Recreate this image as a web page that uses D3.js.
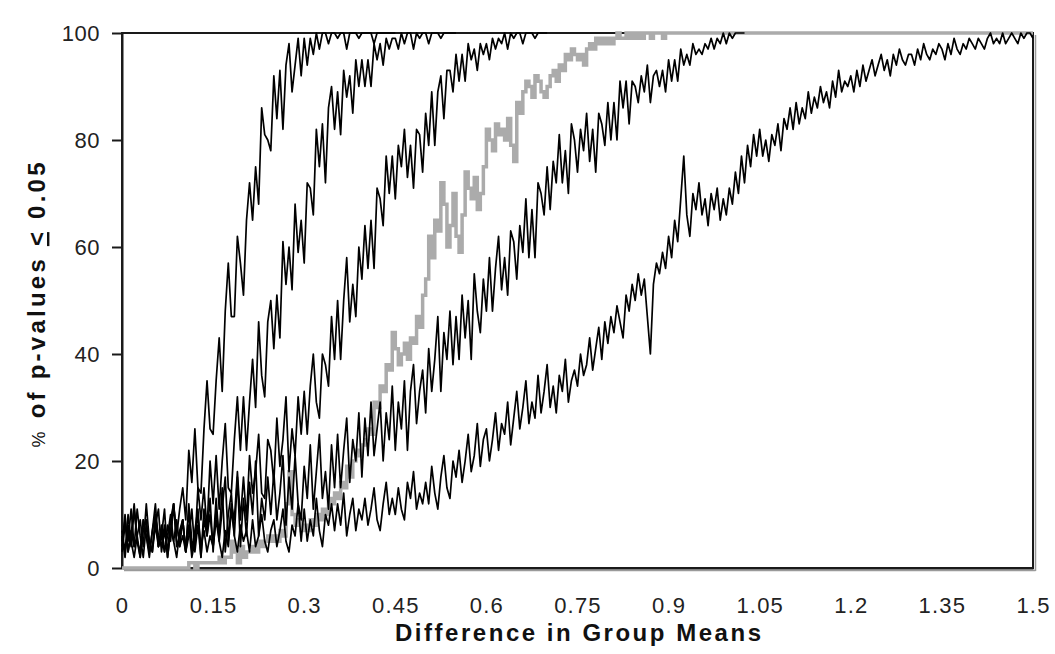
<!DOCTYPE html>
<html><head><meta charset="utf-8">
<script src="https://cdn.jsdelivr.net/npm/d3@7"></script>
<style>
body{margin:0;background:#fff}
text{font-family:"Liberation Sans",Arial,sans-serif}
</style>
</head><body>
<svg id="chart" width="1055" height="654"></svg>
<script>
// ---- data ----
const STEP = 0.005; // spacing of the mean differences (x) between successive values
const xTickValues = [0,0.15,0.3,0.45,0.6,0.75,0.9,1.05,1.2,1.35,1.5];
const xTickLabels = ["0","0.15","0.3","0.45","0.6","0.75","0.9","1.05","1.2","1.35","1.5"];
const yTickValues = [0,20,40,60,80,100];
const xTitle = "Difference in Group Means";

const seriesA = [4,10,3,6,12,5,2,7,9,3,4,8,11,3, 7,3,9,12,6,11,
 15,9,22,16,26,15,14,26,35,26, 25,35,43,33,48,57,47,47,62,57,
 51,65,72,65,75,68,86,81,80,78, 92,84,93,82,94,98,89,94,99,92,
 99,94,99,96,100,97,100,100,98,100,
 100,99,100,100,97,100,100,100,99,100,100,100,100,98,100,100,100,100,100,100,100];

const seriesB = [6,2,8,4,11,5,3,9,6,2,7,10,4,6,3,8,5,12,4,6,
 9,3,12,5,4,15,9,15,7,20, 12,21,11,20,27,15,14,24,32,22,
 32,22,31,39,30,46,36,32,46,50, 41,51,43,61,53,60,52,68,59,65,
 57,72,71,66,82,75,83,72,86,90, 82,89,81,93,88,92,85,95,90,95,
 90,95,90,98,95,98,94,99,97,99, 99,97,100,98,100,100,97,100,99,100,
 100,98,100,100,100,99,100,100,100,100,100];

const seriesC = [5,9,3,7,4,11,6,2,8,5,3,10,6,4,8,2,7,12,5,4,
 9,3,6,11,3,8,2,11,6,10, 4,13,5,11,17,5,12,9,18,9, 17,9,21,14,18,25,14,13,24,22,
 16,28,19,24,32,18,26,21,32,25, 33,25,34,40,31,28,40,38,34,47, 39,50,39,50,58,46,53,47,60,54,
 64,56,65,56,71,69,64,77,70,77, 69,79,75,82,73,79,71,82,81,74, 85,79,89,79,89,92,84,93,93,89,
 96,91,96,91,98,95,97,93,98,96, 98,95,99,97,99,98,100,97,100,99,
 100,100,98,100,100,100,99,100,100,100,100];

const seriesD = [3,8,5,11,4,6,2,9,6,3,7,12,4,8,3,6,10,5,2,7,
 9,3,11,3,7,11,2,9,6,13, 3,11,6,15,3,10,14,6,17,4, 13,6,16,10,20,6,13,9,17,10,
 18,9,14,21,8,17,11,21,12,9, 19,13,23,11,18,25,13,18,11,23, 15,25,15,22,28,16,24,20,29,17,
 28,21,31,21,26,31,20,29,24,34, 22,31,26,35,22,33,38,27,33,37, 29,41,33,39,47,33,44,39,48,38,
 47,39,51,43,50,39,55,48,44,54, 48,58,48,56,62,52,58,51,63,61, 54,64,59,69,58,67,58,72,70,66,
 75,67,76,72,81,72,78,70,83,80, 74,82,78,85,76,82,74,85,83,79, 87,80,87,80,91,86,91,83,91,90,
 87,92,89,94,87,92,93,90,93,89, 95,91,95,91,97,94,96,94,98,96, 97,96,98,97,99,97,99,98,100,98,
 100,99,100,100,100,100];

const seriesE = [7,3,10,5,2,6,9,4,12,5,3,8,4,6,11,2,7,5,9,4,
 6,3,8,2,5,10,4,7,3,6, 4,9,5,2,7,4,11,6,3,8, 5,7,3,9,4,6,10,5,3,7,
 9,4,7,11,5,3,8,6,12,5, 11,5,9,6,13,7,4,10,8,12, 7,12,8,14,6,10,13,7,11,9,
 13,8,11,15,9,7,12,16,10,13, 10,15,11,9,16,13,18,11,14,12, 16,12,19,14,11,17,21,15,13,20,
 17,22,16,20,25,18,21,27,19,24, 26,20,24,29,22,27,25,31,23,28, 33,26,30,35,27,31,28,36,29,33,
 38,30,34,29,36,33,39,31,35,37, 34,40,36,38,43,37,41,45,39,46, 42,47,44,49,46,43,51,48,53,50,
 55,51,54,47,40,53,57,55,59,56, 62,58,65,61,69,77,66,62,70,67, 72,66,69,64,70,67,71,65,69,66,
 71,68,74,70,77,72,79,75,81,77, 82,77,80,76,81,79,83,78,84,82, 86,82,87,83,86,84,89,85,88,86,
 90,87,89,86,91,88,93,89,91,90, 92,89,93,90,94,91,93,95,92,94, 96,93,95,92,96,94,97,95,94,96,
 96,94,97,95,98,96,95,97,96,98, 97,95,98,96,99,97,96,98,97,99, 98,97,99,98,97,99,100,98,99,98,
 100,98,99,100,99,98,100,99,100,100,99];

const seriesGray = [0,0,0,0,0,0,0,0,0,0,0,0,0,0,0,0,0,0,0,0,
 0,0,1,1,0,1,1,1,1,1, 1,1,2,1,2,2,5,3,1,4, 2,3,3,4,3,5,4,5,6,5,
 6,5,7,6,12,18,10,8,9,7, 8,7,9,8,10,9,11,10,13,12, 14,13,16,15,19,17,20,22,21,23,
 24,26,25,31,30,34,33,38,37,44, 41,38,40,42,39,43,42,47,45,51, 54,62,58,65,63,72,68,60,64,70,
 62,59,66,74,71,69,73,67,70,75, 82,80,78,83,81,82,80,84,79,76, 87,85,89,91,90,88,92,91,89,88,
 90,92,93,91,94,93,96,95,97,96, 95,96,94,97,98,97,99,98,99,98, 99,98,99,100,99,99,100,99,100,99,
 100,99,100,100,99,100,100,100,99,100,
 100,100,100,100,100,100,100,100,100,100, 100,100,100,100,100,100,100,100,100,100,
 100,100,100,100,100,100,100,100,100,100, 100,100,100,100,100,100,100,100,100,100,
 100,100,100,100,100,100,100,100,100,100, 100,100,100,100,100,100,100,100,100,100,
 100,100,100,100,100,100,100,100,100,100, 100,100,100,100,100,100,100,100,100,100,
 100,100,100,100,100,100,100,100,100,100, 100,100,100,100,100,100,100,100,100,100,
 100,100,100,100,100,100,100,100,100,100, 100,100,100,100,100,100,100,100,100,100,
 100];

const blackSeries = [seriesA, seriesB, seriesC, seriesD, seriesE];

// ---- chart ----
const svg = d3.select("#chart");
const x = d3.scaleLinear().domain([0, 1.5]).range([122, 1033]);
const y = d3.scaleLinear().domain([0, 100]).range([568, 33]);

// frame shadow
svg.append("line").attr("x1",1035.5).attr("x2",1035.5).attr("y1",35).attr("y2",571)
  .attr("stroke","#9a9a9a").attr("stroke-width",1.5);
svg.append("line").attr("x1",124).attr("x2",1035.5).attr("y1",570.5).attr("y2",570.5)
  .attr("stroke","#9a9a9a").attr("stroke-width",1.5);
// frame
svg.append("rect").attr("x",122).attr("y",33).attr("width",911).attr("height",535)
  .attr("fill","none").attr("stroke","#1a1a1a").attr("stroke-width",2);

// y axis
const yAxis = svg.append("g").attr("transform","translate(122,0)")
  .call(d3.axisLeft(y).tickValues(yTickValues).tickSize(10).tickPadding(12).tickSizeOuter(0));
yAxis.select(".domain").attr("stroke","#1a1a1a").attr("stroke-width",2);
yAxis.selectAll(".tick line").attr("stroke","#1a1a1a").attr("stroke-width",2);
yAxis.selectAll(".tick text").attr("font-size",22).attr("fill","#222")
  .attr("font-family","Liberation Sans, Arial, sans-serif").attr("letter-spacing","0.5px");

// x axis
const xAxis = svg.append("g").attr("transform","translate(0,568)")
  .call(d3.axisBottom(x).tickValues(xTickValues).tickFormat((d,i)=>xTickLabels[i])
    .tickSize(0).tickPadding(29).tickSizeOuter(0));
xAxis.select(".domain").attr("stroke","#1a1a1a").attr("stroke-width",2);
xAxis.selectAll(".tick text").attr("font-size",22).attr("fill","#222")
  .attr("font-family","Liberation Sans, Arial, sans-serif").attr("letter-spacing","1.2px");

// series
const lineGen = d3.line().x((d,i)=>x(i*STEP)).y(d=>y(d));
const stepGen = d3.line().x((d,i)=>x(i*STEP)).y(d=>y(d)).curve(d3.curveStepAfter);

svg.append("path").datum(seriesGray).attr("d",stepGen)
  .attr("fill","none").attr("stroke","#ababab").attr("stroke-width",3.5)
  .attr("stroke-linejoin","miter");

svg.selectAll("path.black").data(blackSeries).join("path").attr("class","black")
  .attr("d",lineGen).attr("fill","none").attr("stroke","#000")
  .attr("stroke-width",1.7).attr("stroke-linejoin","round");

// titles
svg.append("text").attr("x",578).attr("y",641).attr("text-anchor","middle")
  .attr("font-size",24).attr("font-weight","bold").attr("fill","#111")
  .attr("textLength",366).attr("lengthAdjust","spacing")
  .text(xTitle);

const yt = svg.append("text").attr("transform","translate(45,305) rotate(-90)")
  .attr("text-anchor","middle").attr("font-size",24).attr("font-weight","bold").attr("fill","#111")
  .attr("textLength",285).attr("lengthAdjust","spacing");
yt.append("tspan").attr("font-weight","normal").attr("font-size",18).text("%");
yt.append("tspan").text(" of p-values ");
yt.append("tspan").attr("text-decoration","underline").text("<");
yt.append("tspan").text(" 0.05");
</script>
</body></html>
